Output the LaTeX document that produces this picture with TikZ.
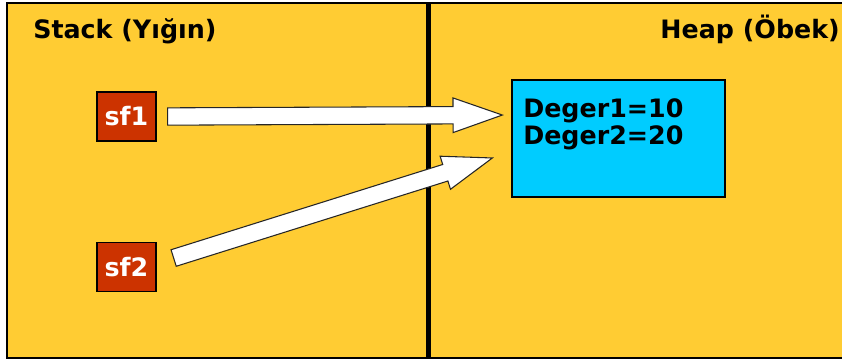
\documentclass[tikz,border=0pt]{standalone}
\usepackage{fontspec}
\setmainfont{DejaVu Sans}
\usepackage{xcolor}
\usepackage{tikz}
\usetikzlibrary{calc, positioning}

\definecolor{panelyellow}{HTML}{FFCC33}
\definecolor{refred}{HTML}{CC3300}
\definecolor{heapblue}{HTML}{00CCFF}

\tikzset{
  reftag/.style={draw=black, line width=1.2pt, fill=refred, text=white,
    font=\fontsize{19}{21}\selectfont\bfseries, minimum width=44pt, minimum height=36.5pt, inner sep=0pt},
  heapbox/.style={draw=black, line width=1.2pt, fill=heapblue, minimum width=159.5pt, minimum height=87.5pt, inner sep=0pt},
  title/.style={font=\fontsize{19}{21}\selectfont\bfseries, inner sep=0pt},
  fatarrow/.style={draw=black!85, line width=0.8pt, fill=white, line join=miter}
}

% fat outlined arrow from #1 to #2
\newcommand{\fatarrow}[2]{%
  \draw[fatarrow]
    ($(#1)!6.5pt!90:(#2)$) --
    ($($(#2)!37pt!(#1)$)!6.5pt!-90:(#1)$) --
    ($($(#2)!37pt!(#1)$)!13pt!-90:(#1)$) --
    (#2) --
    ($($(#2)!37pt!(#1)$)!13pt!90:(#1)$) --
    ($($(#2)!37pt!(#1)$)!6.5pt!90:(#1)$) --
    ($(#1)!6.5pt!-90:(#2)$) -- cycle;}

\begin{document}
\begin{tikzpicture}[x=0.75pt, y=-0.75pt]
\useasboundingbox[fill=white] (0,0) rectangle (842,361);
\draw[fill=panelyellow, line width=1.6pt] (7,3) rectangle (845,358);
\draw[line width=3.75pt] (428,3) -- (428,358);

\node[title, anchor=base west] (stack) at (33,38) {Stack (Yığın)};
\node[title, anchor=base east] (heaplbl) at (840,38) {Heap (Öbek)};

\node[reftag] (sf1) at (126.5,116.5) {sf1};
\node[reftag] (sf2) at (126.5,267) {sf2};

\node[heapbox] (heap) at (618.5,138.5) {};
\node[anchor=north west, align=left, inner sep=0pt,
  font=\fontsize{19}{20.25}\selectfont\bfseries] (vals) at (523,98) {Deger1=10\\Deger2=20};

\coordinate (t1) at ([xshift=11*0.75pt, yshift=0pt]sf1.east);
\coordinate (h1) at ([xshift=-9*0.75pt, yshift=17.6pt]heap.west);
\coordinate (t2) at ([xshift=17*0.75pt, yshift=9*0.75pt]sf2.east);
\coordinate (h2) at ([xshift=-19*0.75pt, yshift=-14.6pt]heap.west);

\fatarrow{t1}{h1}
\fatarrow{t2}{h2}
\end{tikzpicture}
\end{document}
